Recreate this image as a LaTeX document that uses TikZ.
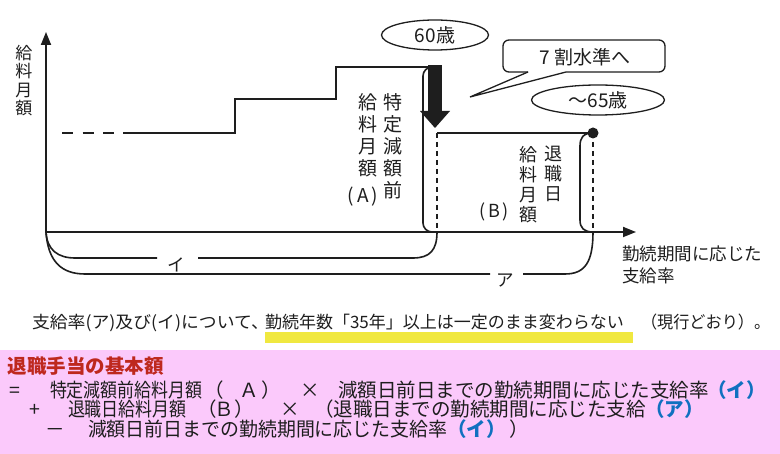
\documentclass[tikz,border=0pt]{standalone}
\usepackage{fontspec}
\setmainfont{Noto Sans CJK JP}
\usetikzlibrary{arrows.meta,shapes.geometric}
\definecolor{pinkbg}{RGB}{251,201,251}
\definecolor{titlered}{RGB}{190,40,30}
\definecolor{fblue}{RGB}{16,112,192}
\definecolor{hl}{RGB}{240,232,64}
\definecolor{ink}{RGB}{30,30,30}
\newcommand\fsz[1]{\fontsize{#1}{#1}\selectfont}
\begin{document}
\begin{tikzpicture}[x=1pt,y=-1pt,
  every node/.style={inner sep=0pt, outer sep=0pt, text=ink},
  lbl/.style={font=\fsz{17.5}},
  vcol/.style={align=center, anchor=north, font=\fontsize{19}{22}\selectfont},
  vcolb/.style={align=center, anchor=north, font=\fontsize{18}{20}\selectfont},
  stairline/.style={line width=2.8pt, draw=ink},
  axisline/.style={line width=1.8pt, draw=ink},
  curve/.style={line width=1.6pt, draw=ink},
  dashv/.style={line width=1.4pt, draw=ink, dash pattern=on 5pt off 4pt},
  bubble/.style={draw=ink, line width=1.3pt, ellipse, font=\fsz{19}},
  fline/.style={anchor=base west, font=\fsz{19.5}},
  fsym/.style={anchor=base, font=\fsz{19.5}},
  fblu/.style={anchor=base west, font=\fsz{19.5}\bfseries, text=fblue},
  sent/.style={anchor=base west, font=\fsz{17}}
]
\useasboundingbox (0,0) rectangle (780,454);
\fill[white] (0,0) rectangle (780,454);
\fill[pinkbg] (0,350) rectangle (780,454);

% axes
\coordinate (O) at (46,232);
\coordinate (ytip) at (46,32);
\coordinate (xtip) at (636,232);
\draw[axisline, {Triangle[length=13pt,width=10pt]}-{Triangle[length=13pt,width=10pt]}] (ytip) -- (O) -- (xtip);
\node[vcol, font=\fontsize{17}{18.5}\selectfont] (ylab) at (24,45) {給\\料\\月\\額};

% salary steps
\coordinate (s0) at (62,133);
\coordinate (s1) at (123,133);
\coordinate (s2) at (235,133);
\coordinate (s3) at (235,99);
\coordinate (s4) at (336,99);
\coordinate (s5) at (336,67);
\coordinate (s6) at (431,67);
\draw[stairline, dash pattern=on 11pt off 9.5pt] (s0) -- (s1);
\draw[stairline] (s1) -- (s2) -- (s3) -- (s4) -- (s5) -- (s6);
\coordinate (b0) at (437,133);
\coordinate (dot) at (593,133);
\draw[stairline] (b0) -- (dot);
\fill[ink] (dot) circle (5.5);

% 60 arrow
\fill[ink] (428,65) rectangle (442,112);
\fill[ink] (420,111) -- (450,111) -- (435,128) -- cycle;

% dashed verticals
\coordinate (b0d) at (437,232);
\coordinate (dotd) at (593,232);
\draw[dashv] (b0) -- (b0d);
\draw[dashv] (dot) -- (dotd);

% region A and B outlines
\draw[curve, rounded corners=9pt] (431,67) -- (423,67) -- (423,232) -- (b0d);
\draw[curve] (dot) .. controls (583,133) and (580,138) .. (580,146) -- (580,220) .. controls (580,228) and (584,232) .. (dotd);

% brackets
\draw[curve] (O) .. controls (47,250) and (58,258) .. (75,258) -- (157,258);
\draw[curve] (198,258) -- (413,258) .. controls (430,258) and (437,250) .. (b0d);
\draw[curve] (O) .. controls (48,262) and (62,274) .. (85,274) -- (490,274);
\draw[curve] (523,274) -- (565,274) .. controls (585,274) and (593,262) .. (dotd);
\node[lbl] (li) at (176,265) {イ};
\node[lbl] (la) at (505,280) {ア};

% vertical labels
\node[vcol] (tk) at (393,93.5) {特\\定\\減\\額\\前};
\node[vcol] (kA) at (368,93.5) {給\\料\\月\\額};
\node[font=\fsz{19}] (pA) at (363,197) {(\hspace{3pt}A\hspace{3pt})};
\node[vcolb] (tb) at (553,146) {退\\職\\日};
\node[vcolb] (kB) at (528,146) {給\\料\\月\\額};
\node[font=\fsz{18}] (pB) at (494,212) {(\hspace{3pt}B\hspace{3pt})};

% x-axis label
\node[lbl, anchor=west] (xl1) at (622,254) {勤続期間に応じた};
\node[lbl, anchor=west] (xl2) at (622,276) {支給率};

% bubbles
\node[bubble, minimum width=107, minimum height=30] (e60) at (435,35) {60歳};
\node[bubble, minimum width=133, minimum height=30] (e65) at (598,100) {～65歳};
\coordinate (tailtip) at (470,97);
\draw[line width=1.3pt, draw=ink, rounded corners=6pt] (528,72) -- (503,72) -- (503,40) -- (665,40) -- (665,72) -- (566,72);
\draw[line width=1.3pt, draw=ink] (528,72) -- (tailtip) -- (566,72);
\node[font=\fsz{19}] (cb) at (585,57) {7 割水準へ};

% sentence
\fill[hl] (265,332) rectangle (633,343);
\node[sent] (st1) at (32,329) {\scalebox{1.05}[1]{支給率(ア)及び(イ)について、}};
\node[sent] (st2) at (265,329) {勤続年数「35年」以上は一定のまま変わらない};
\node[sent] (st3) at (641,329) {\scalebox{0.95}[1]{（現行どおり）。}};

% formula box
\node[fline, font=\fsz{19.5}\bfseries, text=titlered] (ttl) at (8,374) {退職手当の基本額};
% line 1
\node[fsym] (eq) at (15,398) {=};
\node[fline] (l1a) at (50,398) {\scalebox{0.87}[1]{特定減額前給料月額}};
\node[fline] (l1p) at (204,398) {（};
\node[fsym] (l1A) at (249,398) {Ａ};
\node[fline] (l1q) at (261,398) {）};
\node[fsym] (l1x) at (310,398) {×};
\node[fline] (l1b) at (338,398) {減額日前日までの勤続期間に応じた支給率};
\node[fblu] (l1c) at (707,398) {（イ）};
% line 2
\node[fsym] (pl) at (35,417) {+};
\node[fline] (l2a) at (68,417) {\scalebox{0.87}[1]{退職日給料月額}};
\node[fline] (l2p) at (197,417) {（};
\node[fsym] (l2B) at (224,417) {Ｂ};
\node[fline] (l2q) at (234,417) {）};
\node[fsym] (l2x) at (290,417) {×};
\node[fline] (l2b) at (314,417) {（退職日までの勤続期間に応じた支給};
\node[fblu] (l2c) at (645,417) {（ア）};
% line 3
\node[fsym] (mi) at (55,437) {－};
\node[fline] (l3a) at (88,437) {\scalebox{0.97}[1]{減額日前日までの勤続期間に応じた支給率}};
\node[fblu] (l3c) at (447,437) {（イ）};
\node[fline] (l3d) at (509,437) {）};
\end{tikzpicture}
\end{document}
